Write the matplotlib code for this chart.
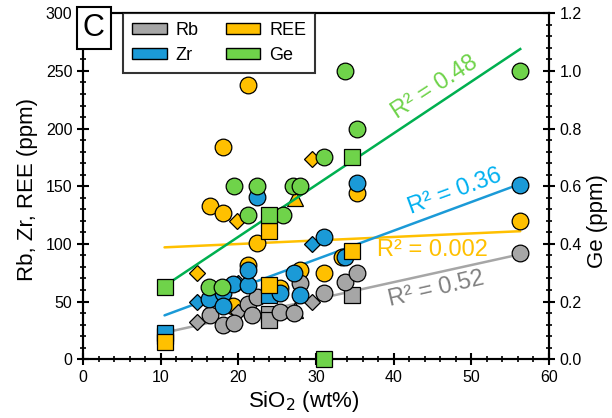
import numpy as np
import matplotlib
matplotlib.use('Agg')
import matplotlib.pyplot as plt
from matplotlib.patches import Patch
from matplotlib.ticker import MultipleLocator

plt.rcParams['font.family'] = ['Liberation Sans', 'DejaVu Sans']

# --- data (SiO2 wt%, ppm) ---
# circles
rb_c_x = [16.3, 18.0, 19.5, 21.2, 21.8, 22.4, 25.4, 27.2, 28.0, 31.0, 33.8, 35.3, 56.3]
rb_c_y = [38.5, 30, 31, 48, 38, 54, 41, 40, 66, 57, 67, 74.5, 92]
ree_c_x = [16.3, 18.0, 18.0, 19.3, 21.2, 21.2, 22.4, 25.4, 28.0, 31.0, 33.4, 35.3, 56.3]
ree_c_y = [133, 184, 127, 46, 238, 82, 101, 62, 77, 75, 89, 144, 119.5]
zr_c_x = [16.2, 18.0, 18.0, 19.3, 21.2, 21.2, 22.4, 25.4, 27.2, 28.0, 31.0, 33.8, 35.3, 56.3]
zr_c_y = [52, 57, 46, 65, 64, 77, 140.5, 57, 75, 56, 106, 89, 153, 151.5]
ge_c_x = [16.2, 17.9, 19.4, 21.3, 22.4, 25.7, 27.0, 28.0, 31.0, 33.8, 35.3, 56.3]
ge_c_y = [0.25, 0.25, 0.60, 0.50, 0.60, 0.50, 0.60, 0.60, 0.70, 1.00, 0.80, 1.00]
# squares
rb_s_x = [10.5, 24.0, 24.0, 34.6]
rb_s_y = [20, 39, 34, 56]
zr_s_x = [10.5, 24.0]
zr_s_y = [23, 56]
ree_s_x = [10.5, 24.0, 24.0, 34.6]
ree_s_y = [15, 111, 64, 94]
ge_s_x = [10.5, 24.0, 31.0, 34.6]
ge_s_y = [0.25, 0.50, 0.0, 0.70]
# diamonds
rb_d_x = [14.7, 20.0, 29.5]
rb_d_y = [32, 41, 50]
zr_d_x = [14.7, 20.0, 29.5]
zr_d_y = [50, 66, 100]
ree_d_x = [14.7, 19.8, 29.5]
ree_d_y = [74.5, 120, 173.5]
# triangles
rb_t_x = [27.3]
rb_t_y = [43]
ree_t_x = [27.3]
ree_t_y = [140]

# trend lines (end points) and R2 values
trend_x = [10.5, 56.3]
rb_trend = [23, 91]
zr_trend = [38, 152]
ree_trend = [97, 111]
ge_trend = [0.254, 1.076]
r2_labels = ['R² = 0.52', 'R² = 0.36', 'R² = 0.002', 'R² = 0.48']

c_rb = '#a6a6a6'
c_zr = '#1b9ad7'
c_ree = '#ffc000'
c_ge = '#6fd34a'

fig = plt.figure(figsize=(6.12, 4.18), dpi=100)
ax = fig.add_axes([0.1356, 0.1407, 0.7614, 0.8275])
ax2 = ax.twinx()

ms = 12
kw = dict(linestyle='none', markeredgecolor='k', markeredgewidth=0.9)

# trend lines
ax.plot(trend_x, rb_trend, color='#a6a6a6', lw=1.8, zorder=1, solid_capstyle='round')
ax.plot(trend_x, ree_trend, color='#ffc000', lw=1.8, zorder=1, solid_capstyle='round')
ax.plot(trend_x, zr_trend, color='#1b9ad7', lw=1.8, zorder=1, solid_capstyle='round')
ax2.plot(trend_x, ge_trend, color='#00b050', lw=1.8, zorder=1)

# primary axis markers
ax.plot(ree_c_x, ree_c_y, 'o', color=c_ree, ms=ms, zorder=2, **kw)
ax.plot(rb_c_x, rb_c_y, 'o', color=c_rb, ms=ms, zorder=3, **kw)
ax.plot(zr_c_x, zr_c_y, 'o', color=c_zr, ms=ms, zorder=4, **kw)
ax.plot(rb_s_x, rb_s_y, 's', color=c_rb, ms=ms - 0.5, zorder=2, **kw)
ax.plot(zr_s_x, zr_s_y, 's', color=c_zr, ms=ms - 0.5, zorder=3, **kw)
ax.plot(ree_s_x, ree_s_y, 's', color=c_ree, ms=ms - 0.5, zorder=4, **kw)
ax.plot(rb_d_x, rb_d_y, 'D', color=c_rb, ms=8.5, zorder=2, **kw)
ax.plot(zr_d_x, zr_d_y, 'D', color=c_zr, ms=8.5, zorder=3, **kw)
ax.plot(ree_d_x, ree_d_y, 'D', color=c_ree, ms=8.5, zorder=4, **kw)
ax.plot(rb_t_x, rb_t_y, '^', color=c_rb, ms=ms, zorder=2, **kw)
ax.plot(ree_t_x, ree_t_y, '^', color=c_ree, ms=ms, zorder=4, **kw)

# Ge on right axis
ax2.plot(ge_c_x, ge_c_y, 'o', color=c_ge, ms=ms, zorder=3, clip_on=False, **kw)
ax2.plot(ge_s_x, ge_s_y, 's', color=c_ge, ms=ms - 0.5, zorder=3, clip_on=False, **kw)

# R2 labels
ax.text(45.5, 61, r2_labels[0], color='#808080', fontsize=17, rotation=13,
        ha='center', va='center')
ax.text(47.9, 145, r2_labels[1], color='#00b0f0', fontsize=17, rotation=20,
        ha='center', va='center')
ax.text(45.0, 95, r2_labels[2], color='#ffc000', fontsize=17, rotation=0,
        ha='center', va='center')
ax.text(45.3, 236, r2_labels[3], color='#6fd34a', fontsize=17, rotation=33,
        ha='center', va='center')

# axes
ax.set_xlim(0, 60)
ax.set_ylim(0, 300)
ax2.set_ylim(0, 1.2)
ax.xaxis.set_major_locator(MultipleLocator(10))
ax.xaxis.set_minor_locator(MultipleLocator(2))
ax.yaxis.set_major_locator(MultipleLocator(50))
ax.yaxis.set_minor_locator(MultipleLocator(10))
ax2.yaxis.set_major_locator(MultipleLocator(0.2))
ax2.yaxis.set_minor_locator(MultipleLocator(0.04))
ax2.yaxis.set_major_formatter(matplotlib.ticker.FormatStrFormatter('%.1f'))

for a in (ax, ax2):
    a.tick_params(which='major', direction='inout', length=8, width=1.5, labelsize=11.5)
    a.tick_params(which='minor', direction='inout', length=5, width=1.2)
    for s in a.spines.values():
        s.set_linewidth(1.5)
ax.tick_params(top=False, which='both')

ax.set_xlabel('SiO$_2$ (wt%)', fontsize=16)
ax.set_ylabel('Rb, Zr, REE (ppm)', fontsize=16)
ax2.set_ylabel('Ge (ppm)', fontsize=16)
ax.xaxis.set_label_coords(0.474, -0.085)
ax.yaxis.set_label_coords(-0.097, 0.49)
ax2.yaxis.set_label_coords(1.082, 0.40)

# legend + panel label
handles = [Patch(facecolor=c_rb, edgecolor='k', label='Rb'),
           Patch(facecolor=c_zr, edgecolor='k', label='Zr'),
           Patch(facecolor=c_ree, edgecolor='k', label='REE'),
           Patch(facecolor=c_ge, edgecolor='k', label='Ge')]
leg = ax2.legend(handles=handles, ncol=2, loc='upper left', bbox_to_anchor=(0.0865, 1.0),
                 fontsize=13, frameon=True, fancybox=False, edgecolor='k',
                 handlelength=1.9, handleheight=0.55, columnspacing=1.5,
                 handletextpad=0.5, borderpad=0.5, labelspacing=0.4, borderaxespad=0)
leg.get_frame().set_linewidth(1.5)
leg.set_zorder(10)

ax2.text(0.0, 1.0, 'C', transform=ax.transAxes, fontsize=22, ha='left', va='top',
         zorder=10, bbox=dict(boxstyle='square,pad=0.2', facecolor='white',
                              edgecolor='k', linewidth=1.5))

fig.savefig('out.png', dpi=100)
